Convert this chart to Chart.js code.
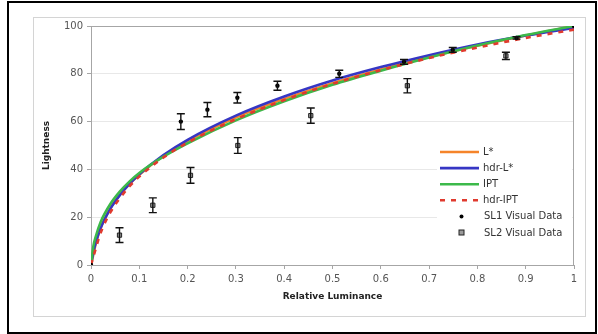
<!DOCTYPE html>
<html>
<head>
<meta charset="utf-8">
<script src="https://cdn.jsdelivr.net/npm/chart.js@4/dist/chart.umd.min.js"></script>
<style>
  body { margin: 0; background: #fff; }
  #frame { position: absolute; left: 7px; top: 1px; width: 586px; height: 329px; border: 2px solid #000; }
  #panel { position: absolute; left: 33px; top: 17px; width: 551px; height: 298px; border: 1px solid #d4d4d4; }
  #wrap { position: absolute; left: 0; top: 0; width: 598px; height: 334px; }
</style>
</head>
<body>
<div id="frame"></div>
<div id="panel"></div>
<div id="wrap"><canvas id="lightness" width="598" height="334"></canvas></div>
<script>
// luminance steps the model curves are sampled at
var lumSteps = [0, 0.005, 0.01, 0.02, 0.04, 0.06, 0.08, 0.1, 0.15, 0.2, 0.3, 0.4, 0.5, 0.6, 0.7, 0.8, 0.9, 1];

var lStar    = [0, 4.5, 9.0, 15.5, 23.7, 29.4, 34.0, 37.8, 45.6, 51.8, 61.7, 69.5, 76.1, 81.8, 87.0, 91.7, 96.0, 100];
var hdrLStar = [0, 5.5, 9.5, 15.5, 23.5, 29.3, 34.0, 38.0, 46.0, 52.4, 62.5, 70.5, 77.2, 82.8, 87.8, 92.3, 96.0, 99.2];
var ipt      = [0, 8.0, 12.0, 18.0, 25.5, 30.8, 35.0, 38.5, 45.3, 50.9, 60.5, 68.5, 75.4, 81.3, 86.8, 91.8, 96.2, 100];
var hdrIpt   = [0, 3.5, 7.0, 13.5, 22.0, 28.0, 33.0, 37.0, 45.0, 51.2, 61.0, 69.0, 75.8, 81.5, 86.6, 91.0, 95.0, 98.5];

// visual scaling experiments (mean and +/- error)
var sl1Lum   = [0, 0.186, 0.241, 0.303, 0.386, 0.514, 0.648, 0.749, 0.881, 1];
var sl1Light = [0, 60, 65, 70, 75, 80, 85, 90, 95, 100];
var sl1Err   = [0, 3.3, 3.0, 2.2, 1.9, 1.5, 1.0, 1.0, 0.5, 0];

var sl2Lum   = [0.059, 0.128, 0.206, 0.304, 0.455, 0.655, 0.859];
var sl2Light = [12.5, 25, 37.5, 50, 62.5, 75, 87.5];
var sl2Err   = [3.1, 3.1, 3.3, 3.3, 3.2, 3.0, 1.5];

var xTicks = [0, 0.1, 0.2, 0.3, 0.4, 0.5, 0.6, 0.7, 0.8, 0.9, 1];

function toPoints(xs, ys) {
  var pts = [];
  for (var i = 0; i < xs.length; i++) {
    pts.push({x: xs[i], y: ys[i]});
  }
  return pts;
}

function curve(label, values, color, order, dash) {
  return {
    label: label,
    data: toPoints(lumSteps, values),
    showLine: true,
    borderColor: color,
    backgroundColor: color,
    borderWidth: 2.6,
    borderDash: dash || [],
    pointRadius: 0,
    cubicInterpolationMode: 'monotone',
    order: order
  };
}

// plot area outline (top and right sides are not axes)
var plotBorder = {
  id: 'plotBorder',
  beforeDatasetsDraw: function(chart) {
    var a = chart.chartArea, ctx = chart.ctx;
    ctx.save();
    ctx.strokeStyle = '#a6a6a6';
    ctx.lineWidth = 1;
    ctx.strokeRect(a.left + 0.5, a.top + 0.5, a.right - a.left - 1, a.bottom - a.top);
    ctx.restore();
  }
};

// vertical error bars for the visual data sets
var errorBars = {
  id: 'errorBars',
  afterDatasetsDraw: function(chart) {
    var ctx = chart.ctx;
    var xs = chart.scales.x, ys = chart.scales.y;
    var sets = [[sl1Lum, sl1Light, sl1Err], [sl2Lum, sl2Light, sl2Err]];
    ctx.save();
    ctx.strokeStyle = '#111';
    ctx.lineWidth = 1.4;
    sets.forEach(function(s) {
      for (var i = 0; i < s[0].length; i++) {
        if (!s[2][i]) continue;
        var px = xs.getPixelForValue(s[0][i]);
        var top = ys.getPixelForValue(s[1][i] + s[2][i]);
        var bot = ys.getPixelForValue(s[1][i] - s[2][i]);
        ctx.beginPath();
        ctx.moveTo(px, top); ctx.lineTo(px, bot);
        ctx.moveTo(px - 4, top); ctx.lineTo(px + 4, top);
        ctx.moveTo(px - 4, bot); ctx.lineTo(px + 4, bot);
        ctx.stroke();
      }
    });
    ctx.restore();
  }
};

// legend box sitting inside the lower right of the plot
var sideKey = {
  id: 'sideKey',
  afterDraw: function(chart) {
    var ctx = chart.ctx;
    var x0 = 437, y0 = 144, rowH = 16.1;
    ctx.save();
    ctx.fillStyle = '#fff';
    ctx.fillRect(x0, y0 - 2, 135, 100);
    ctx.font = '10px "DejaVu Sans", Verdana, sans-serif';
    ctx.textBaseline = 'middle';
    chart.data.datasets.forEach(function(ds, i) {
      var y = y0 + 8 + i * rowH;
      if (ds.showLine) {
        ctx.strokeStyle = ds.borderColor;
        ctx.lineWidth = 2.6;
        ctx.setLineDash(ds.borderDash);
        ctx.beginPath();
        ctx.moveTo(x0 + 3, y); ctx.lineTo(x0 + 42, y);
        ctx.stroke();
        ctx.setLineDash([]);
      } else {
        ctx.fillStyle = ds.backgroundColor;
        ctx.strokeStyle = ds.borderColor;
        ctx.lineWidth = 1;
        if (ds.pointStyle === 'rect') {
          ctx.fillRect(x0 + 22, y - 2.5, 5, 5);
          ctx.strokeRect(x0 + 22, y - 2.5, 5, 5);
        } else {
          ctx.beginPath();
          ctx.arc(x0 + 24.5, y, 2, 0, Math.PI * 2);
          ctx.fill();
        }
      }
      ctx.fillStyle = '#333';
      ctx.fillText(ds.label, x0 + (ds.showLine ? 46 : 47), y + 0.5);
    });
    ctx.restore();
  }
};

var tickFont = {family: '"DejaVu Sans", Verdana, sans-serif', size: 10};
var titleFont = {family: '"DejaVu Sans", Verdana, sans-serif', size: 9, weight: 'bold'};

new Chart(document.getElementById('lightness').getContext('2d'), {
  type: 'scatter',
  data: {
    datasets: [
      curve('L*', lStar, '#f5842a', 4),
      curve('hdr-L*', hdrLStar, '#3636c4', 3),
      curve('IPT', ipt, '#3cb94a', 2),
      curve('hdr-IPT', hdrIpt, '#e03a2e', 1, [5, 6]),
      {
        label: 'SL1 Visual Data',
        data: toPoints(sl1Lum, sl1Light),
        pointStyle: 'circle',
        pointRadius: 2.2,
        backgroundColor: '#000',
        borderColor: '#000',
        borderWidth: 0,
        order: 0
      },
      {
        label: 'SL2 Visual Data',
        data: toPoints(sl2Lum, sl2Light),
        pointStyle: 'rect',
        pointRadius: 3,
        backgroundColor: '#9a9a9a',
        borderColor: '#222',
        borderWidth: 1,
        order: 0
      }
    ]
  },
  options: {
    responsive: false,
    animation: false,
    layout: {padding: {left: 0, top: 26, right: 24, bottom: 0}},
    plugins: {
      legend: {display: false},
      tooltip: {enabled: false}
    },
    scales: {
      x: {
        type: 'linear',
        min: 0,
        max: 1,
        afterFit: function(scale) { scale.height = 69; },
        afterBuildTicks: function(scale) {
          scale.ticks = xTicks.map(function(v) { return {value: v}; });
        },
        ticks: {
          font: tickFont,
          color: '#555',
          padding: 4,
          maxRotation: 0,
          callback: function(v) { return String(v); }
        },
        grid: {drawOnChartArea: false, tickLength: 4, tickColor: '#a6a6a6'},
        border: {color: '#a6a6a6'},
        title: {
          display: true,
          text: 'Relative Luminance',
          font: titleFont,
          color: '#222',
          padding: {top: 0, bottom: 32}
        }
      },
      y: {
        min: 0,
        max: 100,
        afterFit: function(scale) { scale.width = 91; },
        ticks: {stepSize: 20, font: tickFont, color: '#555', padding: 4},
        grid: {color: '#e8e8e8', tickLength: 4, tickColor: '#a6a6a6'},
        border: {color: '#a6a6a6'},
        title: {
          display: true,
          text: 'Lightness',
          font: titleFont,
          color: '#222',
          padding: {top: 41, bottom: 0}
        }
      }
    }
  },
  plugins: [plotBorder, errorBars, sideKey]
});
</script>
</body>
</html>
